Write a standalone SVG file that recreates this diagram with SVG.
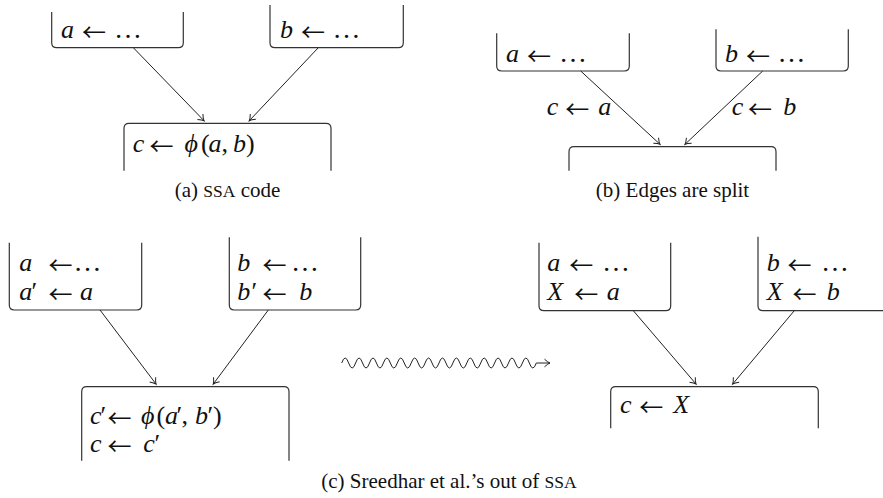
<svg xmlns="http://www.w3.org/2000/svg" width="883" height="498" viewBox="0 0 883 498">
<style>
.box{fill:none;stroke:#333;stroke-width:1.2}
.edge{fill:none;stroke:#222;stroke-width:1}
.m{font-family:"Liberation Serif","DejaVu Serif",serif;font-size:26px;font-style:italic;fill:#111}
.u{font-style:normal}
.ar{font-family:"Noto Sans CJK JP","DejaVu Sans",sans-serif;font-style:normal;font-size:24px;fill:#111}
.d{font-style:normal;font-size:28px}
.cap{font-family:"Liberation Serif","DejaVu Serif",serif;font-size:21px;fill:#111}
.sc{font-size:17.5px}
</style>
<defs>
<marker id="ah" markerUnits="userSpaceOnUse" markerWidth="12" markerHeight="12" viewBox="-7 -6 8 12" refX="0" refY="0" orient="auto">
<path d="M-5.5 -3.8 Q-2 -0.6 0 0 Q-2 0.6 -5.5 3.8" fill="none" stroke="#222" stroke-width="1"/>
</marker>
</defs>

<!-- Panel (a) -->
<g id="a1">
<path class="box" d="M51.7 12 V42.7 Q51.7 47.7 56.7 47.7 H178.3 Q183.3 47.7 183.3 42.7 V12"/>
<text class="m" y="37.7"><tspan x="61">a</tspan><tspan class="d" x="114">…</tspan></text>
<text class="ar" x="82" y="40.7">←</text>
</g>
<g id="b1">
<path class="box" d="M270 5 V42.7 Q270 47.7 275 47.7 H398.3 Q403.3 47.7 403.3 42.7 V5"/>
<text class="m" y="37.7"><tspan x="280">b</tspan><tspan class="d" x="332.5">…</tspan></text>
<text class="ar" x="301" y="40.7">←</text>
</g>
<g id="c1">
<path class="box" d="M124 170.7 V128.3 Q124 123.3 129 123.3 H326 Q331 123.3 331 128.3 V170.7"/>
<text class="m" y="151.7"><tspan x="132.7">c</tspan><tspan x="184.5">ϕ</tspan><tspan class="u" x="201">(</tspan><tspan x="208.5">a</tspan><tspan class="u" x="221.5">,</tspan><tspan x="233">b</tspan><tspan class="u" x="246">)</tspan></text>
<text class="ar" x="149.5" y="154.7">←</text>
</g>
<text id="cap-a" class="cap" x="227.5" y="197" text-anchor="middle">(a) <tspan class="sc">SSA</tspan> code</text>

<!-- Panel (b) -->
<g id="a2">
<path class="box" d="M496.7 33.3 V66 Q496.7 71 501.7 71 H624.3 Q629.3 71 629.3 66 V33.3"/>
<text class="m" y="61.7"><tspan x="506">a</tspan><tspan class="d" x="559">…</tspan></text>
<text class="ar" x="527" y="64.7">←</text>
</g>
<g id="b2">
<path class="box" d="M716 29.3 V66 Q716 71 721 71 H843.3 Q848.3 71 848.3 66 V29.3"/>
<text class="m" y="61.7"><tspan x="725">b</tspan><tspan class="d" x="777.5">…</tspan></text>
<text class="ar" x="746" y="64.7">←</text>
</g>
<g id="c2">
<path class="box" d="M569 170.7 V151.7 Q569 146.7 574 146.7 H771 Q776 146.7 776 151.7 V170.7"/>
</g>
<text id="cap-b" class="cap" x="672.5" y="197" text-anchor="middle">(b) Edges are split</text>

<!-- Panel (c) left -->
<g id="a3">
<path class="box" d="M9.3 242.7 V305 Q9.3 310 14.3 310 H136.7 Q141.7 310 141.7 305 V242.7"/>
<text class="m" y="270.7"><tspan x="19.3">a</tspan><tspan class="d" x="73.5">…</tspan></text>
<text class="ar" x="48.6" y="273.7">←</text>
<text class="m" y="300"><tspan x="19.3">a</tspan><tspan class="u" x="31.5">′</tspan><tspan x="80">a</tspan></text>
<text class="ar" x="48.6" y="303">←</text>
</g>
<g id="b3">
<path class="box" d="M229.3 237.3 V305 Q229.3 310 234.3 310 H355.7 Q360.7 310 360.7 305 V237.3"/>
<text class="m" y="270.7"><tspan x="237.3">b</tspan><tspan class="d" x="291">…</tspan></text>
<text class="ar" x="262.6" y="273.7">←</text>
<text class="m" y="300"><tspan x="237.3">b</tspan><tspan class="u" x="251.5">′</tspan><tspan x="299.3">b</tspan></text>
<text class="ar" x="262.6" y="303">←</text>
</g>
<g id="c3">
<path class="box" d="M81.7 460.7 V391.7 Q81.7 386.7 86.7 386.7 H284 Q289 386.7 289 391.7 V460.7"/>
<text class="m" y="424"><tspan x="90">c</tspan><tspan class="u" x="100.5">′</tspan><tspan x="141">ϕ</tspan><tspan class="u" x="156.5">(</tspan><tspan x="165">a</tspan><tspan class="u" x="176.5">′</tspan><tspan class="u" x="181.5">,</tspan><tspan x="195">b</tspan><tspan class="u" x="207.5">′</tspan><tspan class="u" x="213">)</tspan></text>
<text class="ar" x="107.6" y="427">←</text>
<text class="m" y="452.3"><tspan x="90">c</tspan><tspan x="143.3">c</tspan><tspan class="u" x="154.5">′</tspan></text>
<text class="ar" x="107.6" y="455.3">←</text>
</g>

<!-- Panel (c) right -->
<g id="a4">
<path class="box" d="M539 242.7 V305.7 Q539 310.7 544 310.7 H665.7 Q670.7 310.7 670.7 305.7 V242.7"/>
<text class="m" y="270.7"><tspan x="547.3">a</tspan><tspan class="d" x="602">…</tspan></text>
<text class="ar" x="569.3" y="273.7">←</text>
<text class="m" y="300"><tspan x="547.3">X</tspan><tspan x="606.7">a</tspan></text>
<text class="ar" x="574.3" y="303">←</text>
</g>
<g id="b4">
<path class="box" d="M758 236.7 V305.7 Q758 310.7 763 310.7 H883"/>
<text class="m" y="270.7"><tspan x="766.7">b</tspan><tspan class="d" x="821">…</tspan></text>
<text class="ar" x="787.6" y="273.7">←</text>
<text class="m" y="300"><tspan x="766.7">X</tspan><tspan x="826.7">b</tspan></text>
<text class="ar" x="792.6" y="303">←</text>
</g>
<g id="c4">
<path class="box" d="M610.7 428.3 V391.7 Q610.7 386.7 615.7 386.7 H813.3 Q818.3 386.7 818.3 391.7 V428.3"/>
<text class="m" y="413.3"><tspan x="620">c</tspan><tspan x="673.3">X</tspan></text>
<text class="ar" x="639.3" y="416.3">←</text>
</g>
<text id="cap-c" class="cap" x="449" y="488" text-anchor="middle">(c) Sreedhar et al.’s out of <tspan class="sc">SSA</tspan></text>

<!-- Connectors -->
<g id="connectors">
<path class="edge" marker-end="url(#ah)" d="M133.3 47.7 L204 120.7"/>
<path class="edge" marker-end="url(#ah)" d="M318.3 47.7 L249.3 120.7"/>
<path class="edge" marker-end="url(#ah)" d="M580.7 71 L660 144.3"/>
<path class="edge" marker-end="url(#ah)" d="M762.7 71 L685 144.3"/>
<text class="m" y="115"><tspan x="546.7">c</tspan><tspan x="598.3">a</tspan></text>
<text class="ar" x="565.3" y="118">←</text>
<text class="m" y="115"><tspan x="731.7">c</tspan><tspan x="783.3">b</tspan></text>
<text class="ar" x="748" y="118">←</text>
<path class="edge" marker-end="url(#ah)" d="M100 310 L156 384"/>
<path class="edge" marker-end="url(#ah)" d="M268.3 310 L213.3 384"/>
<path class="edge" marker-end="url(#ah)" d="M633.3 310.7 L696 384"/>
<path class="edge" marker-end="url(#ah)" d="M794.3 310.7 L732.7 384"/>
<path class="edge" stroke-width="1.2" marker-end="url(#ah)" d="M341.7 363 q3.475 -10 6.95 0 t6.95 0 t6.95 0 t6.95 0 t6.95 0 t6.95 0 t6.95 0 t6.95 0 t6.95 0 t6.95 0 t6.95 0 t6.95 0 t6.95 0 t6.95 0 t6.95 0 t6.95 0 t6.95 0 t6.95 0 t6.95 0 t6.95 0 t6.95 0 t6.95 0 t6.95 0 t6.95 0 t6.95 0 t6.95 0 t6.95 0 t6.95 0 L550 363"/>
</g>
</svg>
